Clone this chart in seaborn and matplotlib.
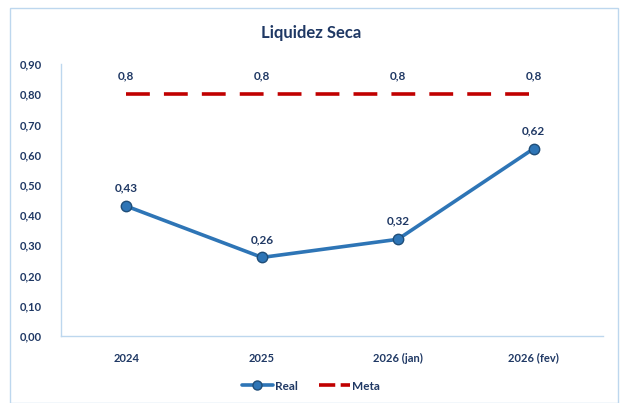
import numpy as np
import pandas as pd
import seaborn as sns
import matplotlib.pyplot as plt
from matplotlib.lines import Line2D
from matplotlib.patches import Rectangle

# dados
categorias = ["2024", "2025", "2026 (jan)", "2026 (fev)"]
real = [0.43, 0.26, 0.32, 0.62]
meta = [0.8, 0.8, 0.8, 0.8]
y_ticks = [0.0, 0.1, 0.2, 0.3, 0.4, 0.5, 0.6, 0.7, 0.8, 0.9]

navy = "#1F3864"
azul = "#2E75B6"
vermelho = "#C00000"
borda = "#BDD7EE"

sns.set_style("white")
plt.rcParams['font.family'] = ['Lato', 'DejaVu Sans']

df = pd.DataFrame({"cat": categorias, "x": range(len(categorias)), "Real": real, "Meta": meta})

fig = plt.figure(figsize=(6.22, 4.03), dpi=100)
ax = fig.add_axes([61/622, 1 - 336/403, (603-61)/622, (336-64)/403])

sns.lineplot(data=df, x="x", y="Meta", ax=ax, color=vermelho, lw=2.6,
             linestyle=(0, (6.6, 3.9)), zorder=2)
sns.lineplot(data=df, x="x", y="Real", ax=ax, color=azul, lw=2.6, marker="o",
             markersize=7.5, markerfacecolor=azul, markeredgecolor="#1F4E79",
             markeredgewidth=1, zorder=3)

for i, (r, m) in enumerate(zip(real, meta)):
    ax.annotate(f"{r:.2f}".replace(".", ","), (i, r), xytext=(0, 9), textcoords="offset points",
                ha="center", va="bottom", fontsize=8.5, fontweight="bold", color=navy)
    ax.annotate(f"{m:g}".replace(".", ","), (i, m), xytext=(0, 9), textcoords="offset points",
                ha="center", va="bottom", fontsize=8.5, fontweight="bold", color=navy)

ax.set_xlim(-0.48, 3.51)
ax.set_ylim(0, 0.9)
ax.set_yticks(y_ticks)
ax.set_yticklabels([f"{v:.2f}".replace(".", ",") for v in y_ticks], fontsize=8,
                   fontweight="bold", color=navy)
ax.set_xticks(range(len(categorias)))
ax.set_xticklabels(categorias, fontsize=8, fontweight="bold", color=navy)
ax.tick_params(axis="both", length=0)
ax.tick_params(axis="y", pad=14)
ax.tick_params(axis="x", pad=12)
ax.set_xlabel("")
ax.set_ylabel("")
for s in ["top", "right"]:
    ax.spines[s].set_visible(False)
for s in ["left", "bottom"]:
    ax.spines[s].set_color(borda)
    ax.spines[s].set_linewidth(1)

fig.text(0.5, 1 - 33/403, "Liquidez Seca", ha="center", va="center", fontsize=12,
         fontweight="bold", color=navy)

handles = [
    Line2D([], [], color=azul, lw=2.6, marker="o", markersize=6.5, markerfacecolor=azul,
           markeredgecolor="#1F4E79"),
    Line2D([], [], color=vermelho, lw=2.6, linestyle=(0, (4.5, 1.5))),
]
fig.legend(handles, ["Real", "Meta"], loc="center", bbox_to_anchor=(0.5, 1 - 386/403),
           ncol=2, frameon=False, handlelength=2.6, columnspacing=1.8, handletextpad=0.2,
           prop={"size": 8.5, "weight": "bold"}, labelcolor=navy)

fig.patches.append(Rectangle((10/622, 0.0), (618-10)/622, 1 - 8/403 + 0.0,
                             transform=fig.transFigure, fill=False, edgecolor=borda, lw=1))

fig.savefig("out.png", dpi=100)
